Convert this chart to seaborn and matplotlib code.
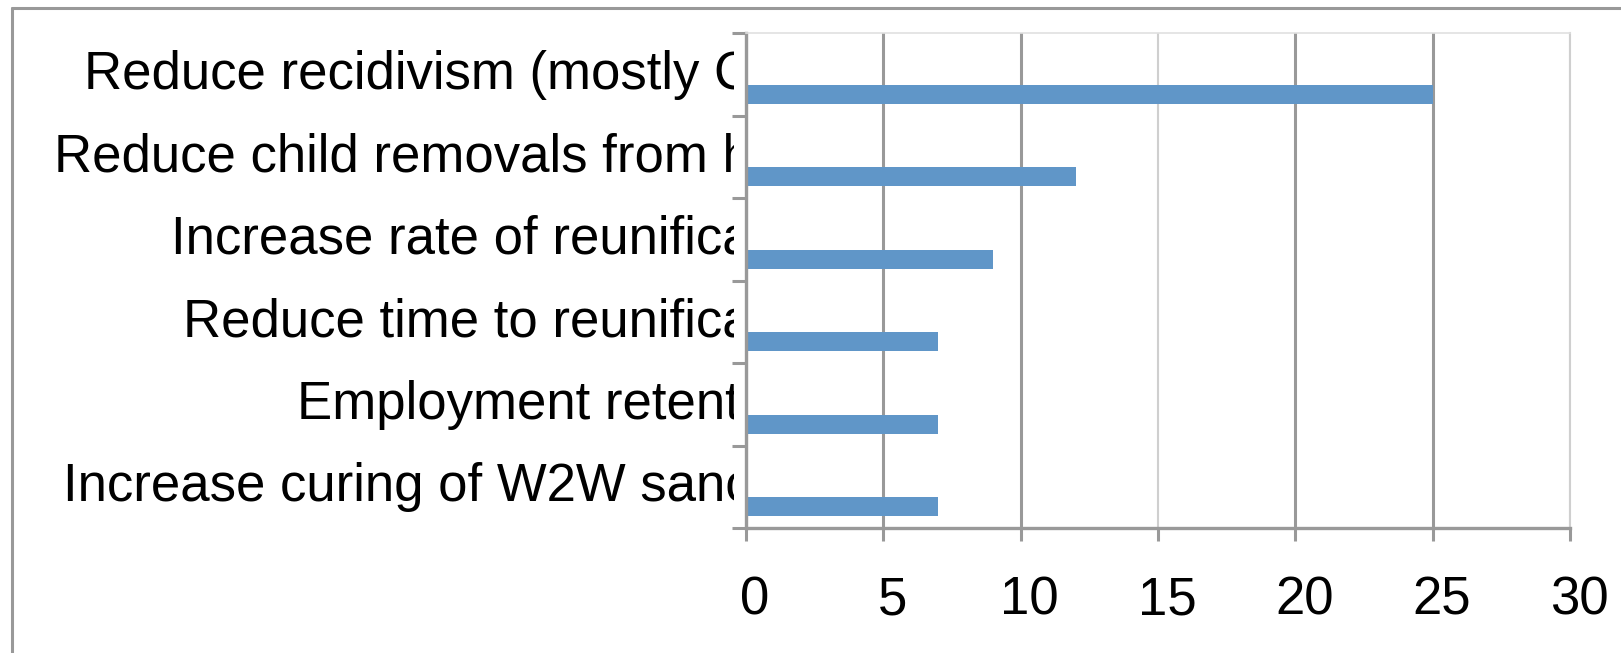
import matplotlib
matplotlib.use("Agg")
import matplotlib.pyplot as plt
import matplotlib.transforms as mtransforms
from matplotlib.lines import Line2D
import seaborn as sns
import numpy as np

# chart data (labels are cut off in the original chart)
categories = [
    "Reduce recidivism (mostly C",
    "Reduce child removals from h",
    "Increase rate of reunifica",
    "Reduce time to reunifica",
    "Employment retenti",
    "Increase curing of W2W sanc",
]
counts = [25, 12, 9, 7, 7, 7]
x_ticks = [0, 5, 10, 15, 20, 25, 30]

bar_color = "#6096c8"
grid_gray = "#999999"

sns.set_style("white")
plt.rcParams["font.family"] = ["Liberation Sans", "DejaVu Sans"]
plt.rcParams["text.color"] = "black"
plt.rcParams["xtick.color"] = "black"
plt.rcParams["ytick.color"] = "black"

fig = plt.figure(figsize=(16.21, 6.53), dpi=100)
ax = fig.add_axes([746 / 1621, 1 - 528 / 653, (1570 - 746) / 1621, (528 - 33) / 653])

sns.barplot(x=counts, y=categories, orient="h", color=bar_color, width=0.23,
            linewidth=0, saturation=1, ax=ax)

ax.set_xlim(0, 30)
ax.set_ylim(5.26, -0.74)
ax.set_xlabel("")
ax.set_ylabel("")

# x axis ticks and grid
ax.set_xticks(x_ticks)
ax.set_xticklabels([str(t) for t in x_ticks])
ax.grid(axis="x", color=grid_gray, linewidth=2.2)
ax.grid(axis="y", visible=False)
for t, gl in zip(x_ticks, ax.xaxis.get_gridlines()):
    if t in (15, 30):
        gl.set_color("#cfcfcf")
        gl.set_linewidth(1.5)
ax.set_axisbelow(True)
ax.tick_params(axis="x", which="major", bottom=True, length=9, width=2.2,
               color=grid_gray, labelcolor="black", pad=25, labelsize=38)
shift = mtransforms.ScaledTranslation(9 / 100, 0, fig.dpi_scale_trans)
for lab in ax.get_xticklabels():
    lab.set_transform(lab.get_transform() + shift)

# y axis: labels slightly above each bar, band ticks at the boundaries
pos = np.arange(len(categories))
ax.set_yticks(pos - 0.3)
ax.set_yticklabels(categories)
ax.set_yticks(list(pos - 0.74) + [5.26], minor=True)
ax.tick_params(axis="y", which="major", left=False, length=0, pad=-4,
               labelsize=38, labelcolor="black")
ax.tick_params(axis="y", which="minor", left=True, length=10, width=2.2, color=grid_gray)

clip = mtransforms.TransformedBbox(mtransforms.Bbox.from_extents(0, 0, 734 / 1621, 1), fig.transFigure)
for lab in ax.get_yticklabels():
    lab.set_clip_box(clip)
    lab.set_clip_on(True)
    lab.set_horizontalalignment("right")

# spines
for side in ["left", "bottom"]:
    ax.spines[side].set_color(grid_gray)
    ax.spines[side].set_linewidth(2.4)
ax.spines["top"].set_color("#e0e0e0")
ax.spines["top"].set_linewidth(1.2)
ax.spines["right"].set_color("#cfcfcf")
ax.spines["right"].set_linewidth(1.5)

# outer frame of the original chart object
fig.add_artist(Line2D([12 / 1621, 1], [1 - 8 / 653, 1 - 8 / 653], transform=fig.transFigure,
                      color=grid_gray, linewidth=2.2))
fig.add_artist(Line2D([12 / 1621, 12 / 1621], [0, 1 - 8 / 653], transform=fig.transFigure,
                      color=grid_gray, linewidth=2.2))

fig.savefig("out.png", dpi=100)
